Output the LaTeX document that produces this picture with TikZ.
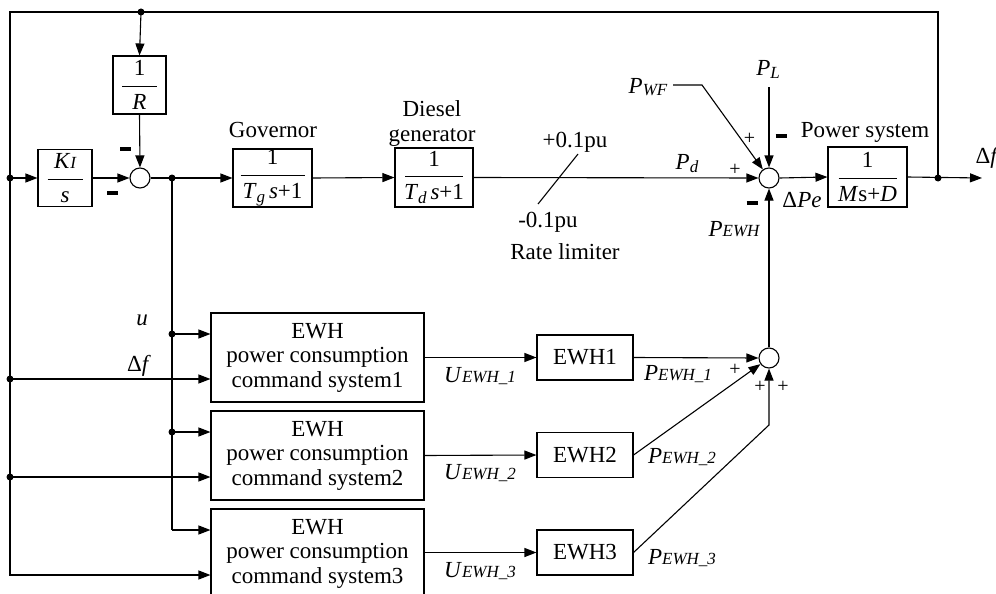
\documentclass[tikz,border=0pt]{standalone}
\usepackage{fontspec}
\setmainfont{Liberation Serif}
\usetikzlibrary{arrows.meta}
\newcommand{\sbs}[3][0pt]{\textit{#2}\raisebox{#1}{\fontsize{17}{17}\selectfont\itshape #3}}
\newcommand{\mbar}{\rule{11pt}{3.2pt}}
\newcommand{\fr}[3]{$\displaystyle\frac{\makebox[#1]{#2}}{\makebox[#1]{#3}}$}
\begin{document}
\begin{tikzpicture}[x=1pt,y=-1pt, font=\fontsize{23}{24}\selectfont, line width=1.1pt,
  >={Triangle[length=12pt,width=9pt]},
  blk/.style={draw, inner sep=0pt},
  sumc/.style={draw, circle, minimum size=20pt, inner sep=0pt},
  dot/.style={circle, fill, inner sep=0pt, minimum size=7pt},
  lbl/.style={anchor=base, inner sep=0pt},
  sgn/.style={inner sep=0pt},
  cmd/.style={blk, minimum width=213pt, minimum height=89pt, align=center, font=\fontsize{23}{24.5}\selectfont},
  ewh/.style={blk, minimum width=96pt, minimum height=45pt}]
\useasboundingbox (0,0) rectangle (996,594);
\clip (0,0) rectangle (996,594);

% blocks
\node[blk, minimum width=54pt, minimum height=57pt] (ki) at (65,178) {\fr{35pt}{\textit{K}{\fontsize{17}{17}\selectfont\itshape I}}{\textit{s}}};
\node[blk, minimum width=53pt, minimum height=58pt] (rb) at (139.5,85) {\fr{35pt}{1}{\textit{R}}};
\node[blk, minimum width=79pt, minimum height=58pt] (gov) at (272.5,178) {\fr{64pt}{1}{\textit{T}\raisebox{-4pt}{\fontsize{17}{17}\selectfont\itshape g}\,\textit{s}+1}};
\node[blk, minimum width=78pt, minimum height=59pt] (die) at (434,177.5) {\fr{58pt}{1}{\textit{T}\raisebox{-4pt}{\fontsize{17}{17}\selectfont\itshape d}\,\textit{s}+1}};
\node[blk, minimum width=79pt, minimum height=60pt] (ps) at (867.5,177) {\fr{58pt}{1}{\textit{M}s+\textit{D}}};
\node[sumc] (s1) at (140,178) {};
\node[sumc] (s2) at (769,178) {};
\node[sumc] (s3) at (769,358) {};

\node[cmd] (box1) at (317.5,357.5) {EWH\\power consumption\\command system1};
\node[cmd] (box2) at (317.5,455.5) {EWH\\power consumption\\command system2};
\node[cmd] (box3) at (317.5,553.5) {EWH\\power consumption\\command system3};
\node[ewh] (e1) at (585,357.5) {EWH1};
\node[ewh] (e2) at (585,455) {EWH2};
\node[ewh] (e3) at (585,552.5) {EWH3};

% junctions and free ends
\node[dot] (dF) at (938,178) {};
\node[dot] (dT) at (141,12) {};
\node[dot] (dL1) at (10,178) {};
\node[dot] (dL2) at (10,379) {};
\node[dot] (dL3) at (10,477) {};
\node[dot] (dU) at (172,178) {};
\node[dot] (dU1) at (172,334) {};
\node[dot] (dU2) at (172,432) {};
\coordinate (cTR) at (938,12);
\coordinate (cTL) at (10,12);
\coordinate (cBL) at (10,575);
\coordinate (cUB) at (172,530);
\coordinate (cOut) at (982,178);
\coordinate (cPL) at (769,87);
\coordinate (cWF) at (673,85);
\coordinate (cWF2) at (702,85);
\coordinate (cE3) at (769,425);
\coordinate (rl1) at (538,204);
\coordinate (rl2) at (578,154);

% connectors
\draw[->] (dF.center) -- (cTR) -- (cTL) -- (cBL) -- (box3.west |- cBL);
\draw[->] (dT.center) -- (rb.north);
\draw[->] (rb.south) -- (s1.north);
\draw[->] (dL1.center) -- (ki.west);
\draw[->] (ki.east) -- (s1.west);
\draw[->] (s1.east) -- (gov.west);
\draw[->] (gov.east) -- (die.west);
\draw[->] (die.east) -- (s2.west);
\draw[->] (s2.east) -- (ps.west);
\draw[->] (ps.east) -- (cOut);
\draw[->] (cPL) -- (s2.north);
\draw[->] (cWF) -- (cWF2) -- (s2);
\draw[->] (s3.north) -- (s2.south);
\draw (dU.center) -- (cUB);
\draw[->] (cUB) -- (box3.west |- cUB);
\draw[->] (dU1.center) -- (box1.west |- dU1);
\draw[->] (dU2.center) -- (box2.west |- dU2);
\draw[->] (dL2.center) -- (box1.west |- dL2);
\draw[->] (dL3.center) -- (box2.west |- dL3);
\draw[->] (box1.east) -- (e1.west);
\draw[->] (box2.east) -- (e2.west);
\draw[->] (box3.east |- e3.west) -- (e3.west);
\draw[->] (e1.east) -- (s3.west);
\draw[->] (e2.east) -- (s3);
\draw[->] (e3.east) -- (cE3) -- (s3.south);
\draw (rl1) -- (rl2);

% labels
\node[lbl] at (273,137) {Governor};
\node[lbl] at (432,117) {Diesel};
\node[lbl] at (432,141) {generator};
\node[lbl] at (575,147) {+0.1pu};
\node[lbl] at (548,227) {-0.1pu};
\node[lbl] at (565,259) {Rate limiter};
\node[lbl] at (865,137) {Power system};
\node[lbl] at (648,93) {\sbs[-2pt]{P}{WF}};
\node[lbl] at (768,75) {\sbs[-3pt]{P}{L}};
\node[lbl] at (687,169) {\sbs[-3pt]{P}{d}};
\node[lbl] at (802,207) {Δ\textit{Pe}};
\node[lbl] at (734,236) {\sbs{P}{EWH}};
\node[lbl, anchor=base west] at (975,163) {Δ\textit{f}};
\node[lbl] at (142,325) {\textit{u}};
\node[lbl] at (139,371) {Δ\textit{f}};
\node[lbl] at (480,382) {\sbs{U}{EWH\_1}};
\node[lbl] at (480,479) {\sbs{U}{EWH\_2}};
\node[lbl] at (480,577) {\sbs{U}{EWH\_3}};
\node[lbl] at (678,380) {\sbs{P}{EWH\_1}};
\node[lbl] at (682,463) {\sbs{P}{EWH\_2}};
\node[lbl] at (682,564) {\sbs{P}{EWH\_3}};

% signs
\node[sgn] at (125.5,149) {\mbar};
\node[sgn] at (112.5,193) {\mbar};
\node[sgn] at (781,136) {\mbar};
\node[sgn] at (752,203) {\mbar};
\node[sgn, font=\fontsize{20}{20}\selectfont] at (749.5,139) {+};
\node[sgn, font=\fontsize{20}{20}\selectfont] at (735,170) {+};
\node[sgn, font=\fontsize{20}{20}\selectfont] at (735,370) {+};
\node[sgn, font=\fontsize{20}{20}\selectfont] at (760,387) {+};
\node[sgn, font=\fontsize{20}{20}\selectfont] at (783,387) {+};
\end{tikzpicture}
\end{document}
